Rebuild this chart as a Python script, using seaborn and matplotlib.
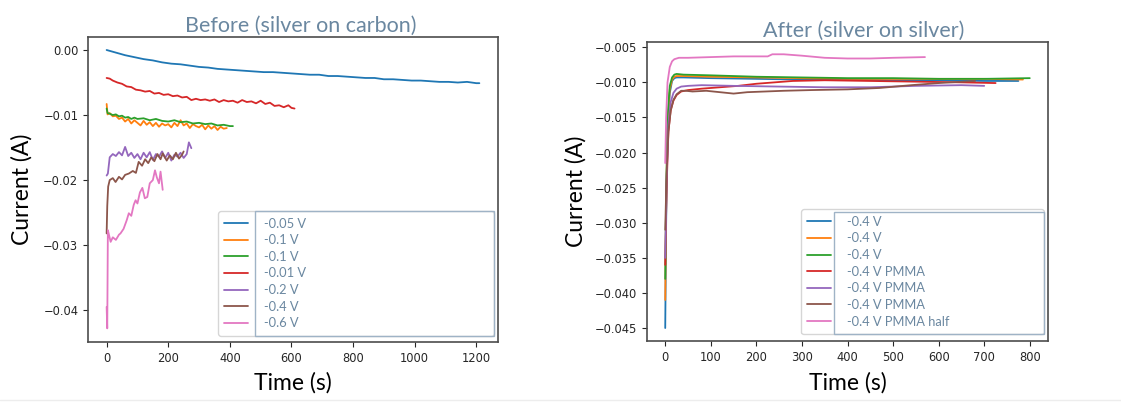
import matplotlib
matplotlib.use('Agg')
import matplotlib.pyplot as plt
from matplotlib.patches import Rectangle
from matplotlib.lines import Line2D
import numpy as np
import pandas as pd
import seaborn as sns

# ---- data (time in s, current in A) ----
before_labels = ['-0.05 V', '-0.1 V', '-0.1 V', '-0.01 V', '-0.2 V', '-0.4 V', '-0.6 V']

b_t_005 = [0, 30, 60, 90, 120, 150, 180, 210, 240, 270, 300, 330, 360, 390, 420, 450,
           480, 510, 540, 570, 600, 630, 660, 690, 720, 750, 780, 810, 840, 870, 900,
           930, 960, 990, 1020, 1050, 1080, 1110, 1140, 1170, 1200, 1210]
b_i_005 = [0.0, -0.0004, -0.0008, -0.0011, -0.0014, -0.0016, -0.0019, -0.0021, -0.0022,
           -0.0024, -0.0026, -0.0027, -0.0029, -0.0030, -0.0031, -0.0032, -0.0033,
           -0.0034, -0.0034, -0.0035, -0.0036, -0.0037, -0.0038, -0.0038, -0.0040,
           -0.0040, -0.0041, -0.0042, -0.0043, -0.0043, -0.0045, -0.0045, -0.0046,
           -0.0047, -0.0047, -0.0048, -0.0049, -0.0049, -0.0050, -0.0049, -0.0051, -0.0051]

b_t_01a = [0, 3, 10, 20, 30, 40, 50, 60, 70, 80, 90, 100, 110, 120, 130, 140, 150, 160,
           170, 180, 190, 200, 210, 220, 230, 240, 250, 260, 270, 280, 290, 300, 310,
           320, 330, 340, 350, 360, 370, 380, 390]
b_i_01a = [-0.0083, -0.0099, -0.0097, -0.0102, -0.0101, -0.0106, -0.0104, -0.0110, -0.0106,
           -0.0113, -0.0108, -0.0112, -0.0116, -0.0109, -0.0115, -0.0111, -0.0117, -0.0112,
           -0.0118, -0.0113, -0.0116, -0.0114, -0.0119, -0.0112, -0.0117, -0.0108, -0.0116,
           -0.0113, -0.0120, -0.0114, -0.0117, -0.0119, -0.0115, -0.0122, -0.0116, -0.0121,
           -0.0117, -0.0123, -0.0118, -0.0121, -0.0120]

b_t_01b = [0, 3, 10, 20, 30, 40, 50, 60, 70, 80, 90, 100, 120, 140, 160, 180, 200, 220,
           240, 260, 280, 300, 320, 340, 360, 380, 400, 410]
b_i_01b = [-0.0090, -0.0097, -0.0098, -0.0100, -0.0099, -0.0102, -0.0101, -0.0104, -0.0103,
           -0.0106, -0.0104, -0.0106, -0.0105, -0.0108, -0.0106, -0.0109, -0.0110, -0.0108,
           -0.0111, -0.0110, -0.0113, -0.0112, -0.0114, -0.0113, -0.0116, -0.0115, -0.0117,
           -0.0117]

b_t_001 = [0, 10, 20, 35, 50, 65, 80, 95, 110, 125, 140, 155, 170, 185, 200, 215, 230,
           245, 260, 275, 290, 305, 320, 335, 350, 365, 380, 395, 410, 425, 440, 455,
           470, 485, 500, 515, 530, 545, 560, 575, 590, 600, 610]
b_i_001 = [-0.0043, -0.0044, -0.0047, -0.0050, -0.0052, -0.0056, -0.0057, -0.0061, -0.0062,
           -0.0064, -0.0063, -0.0067, -0.0066, -0.0069, -0.0068, -0.0071, -0.0070, -0.0073,
           -0.0072, -0.0077, -0.0075, -0.0077, -0.0076, -0.0078, -0.0076, -0.0080, -0.0077,
           -0.0079, -0.0078, -0.0081, -0.0077, -0.0080, -0.0079, -0.0082, -0.0078, -0.0083,
           -0.0081, -0.0086, -0.0085, -0.0088, -0.0085, -0.0089, -0.0090]

b_t_02 = [0, 4, 10, 20, 30, 40, 50, 60, 70, 80, 90, 100, 110, 120, 130, 140, 150, 160,
          170, 180, 190, 200, 210, 220, 230, 240, 250, 260, 267, 275]
b_i_02 = [-0.0193, -0.0190, -0.0165, -0.0160, -0.0163, -0.0157, -0.0162, -0.0149, -0.0163,
          -0.0158, -0.0166, -0.0160, -0.0168, -0.0158, -0.0165, -0.0157, -0.0169, -0.0160,
          -0.0164, -0.0156, -0.0166, -0.0158, -0.0170, -0.0161, -0.0164, -0.0158, -0.0166,
          -0.0160, -0.0142, -0.0151]

b_t_04 = [0, 2, 5, 10, 20, 29, 40, 50, 60, 72, 85, 95, 104, 115, 125, 135, 145, 155,
          165, 175, 182, 195, 205, 215, 225, 235, 245, 250]
b_i_04 = [-0.0282, -0.0240, -0.0210, -0.0200, -0.0197, -0.0203, -0.0195, -0.0199, -0.0192,
          -0.0190, -0.0186, -0.0189, -0.0172, -0.0178, -0.0168, -0.0174, -0.0165, -0.0171,
          -0.0160, -0.0168, -0.0159, -0.0170, -0.0162, -0.0168, -0.0158, -0.0167, -0.0161,
          -0.0156]

b_t_06 = [0, 2, 4, 8, 13, 20, 30, 40, 45, 55, 65, 72, 80, 88, 94, 100, 108, 116, 124,
          132, 140, 150, 157, 163, 170, 175, 182]
b_i_06 = [-0.0395, -0.0428, -0.0277, -0.0285, -0.0295, -0.0288, -0.0292, -0.0284, -0.0282,
          -0.0275, -0.0262, -0.0251, -0.0255, -0.0238, -0.0231, -0.0236, -0.0219, -0.0212,
          -0.0228, -0.0226, -0.0205, -0.0200, -0.0185, -0.0196, -0.0205, -0.0187, -0.0215]

after_labels = ['-0.4 V', '-0.4 V', '-0.4 V', '-0.4 V PMMA', '-0.4 V PMMA',
                '-0.4 V PMMA', '-0.4 V PMMA half']

a_t_1 = [0, 2, 5, 10, 15, 20, 25, 40, 100, 200, 300, 400, 500, 600, 700, 775]
a_i_1 = [-0.0450, -0.0300, -0.0170, -0.0115, -0.0098, -0.0094, -0.0093, -0.0093, -0.0094,
         -0.0095, -0.0096, -0.0096, -0.0097, -0.0097, -0.0098, -0.0098]
a_t_2 = [0, 2, 5, 10, 15, 20, 25, 40, 100, 200, 300, 400, 500, 600, 700, 785]
a_i_2 = [-0.0410, -0.0280, -0.0160, -0.0110, -0.0096, -0.0092, -0.0091, -0.0091, -0.0092,
         -0.0093, -0.0094, -0.0095, -0.0095, -0.0095, -0.0095, -0.0096]
a_t_3 = [0, 2, 5, 10, 15, 20, 25, 40, 100, 200, 300, 400, 500, 600, 700, 800]
a_i_3 = [-0.0380, -0.0260, -0.0150, -0.0105, -0.0093, -0.0089, -0.0088, -0.0089, -0.0090,
         -0.0092, -0.0093, -0.0094, -0.0094, -0.0095, -0.0095, -0.0094]
a_t_4 = [0, 3, 7, 12, 18, 25, 35, 50, 80, 120, 160, 200, 240, 280, 350, 450, 550, 650, 725]
a_i_4 = [-0.0360, -0.0250, -0.0170, -0.0140, -0.0126, -0.0118, -0.0113, -0.0111, -0.0109,
         -0.0107, -0.0105, -0.0102, -0.0100, -0.0098, -0.0097, -0.0098, -0.0099, -0.0100,
         -0.0101]
a_t_5 = [0, 3, 7, 12, 18, 25, 35, 50, 80, 150, 250, 350, 450, 550, 650, 700]
a_i_5 = [-0.0350, -0.0240, -0.0160, -0.0128, -0.0115, -0.0109, -0.0106, -0.0105, -0.0104,
         -0.0105, -0.0106, -0.0107, -0.0107, -0.0105, -0.0104, -0.0105]
a_t_6 = [0, 3, 7, 12, 18, 25, 35, 45, 60, 90, 120, 150, 180, 220, 260, 320, 400, 470,
         540, 600, 680]
a_i_6 = [-0.0310, -0.0230, -0.0170, -0.0140, -0.0125, -0.0117, -0.0112, -0.0112, -0.0113,
         -0.0112, -0.0114, -0.0116, -0.0114, -0.0113, -0.0112, -0.0111, -0.0110, -0.0108,
         -0.0104, -0.0101, -0.0098]
a_t_7 = [0, 2, 5, 10, 15, 20, 30, 50, 100, 150, 200, 225, 235, 260, 300, 350, 400, 450,
         500, 570]
a_i_7 = [-0.0215, -0.0150, -0.0100, -0.0078, -0.0070, -0.0067, -0.0065, -0.0065, -0.0064,
         -0.0063, -0.0063, -0.0063, -0.0060, -0.0060, -0.0062, -0.0065, -0.0066, -0.0066,
         -0.0065, -0.0064]

before_series = [(b_t_005, b_i_005), (b_t_01a, b_i_01a), (b_t_01b, b_i_01b),
                 (b_t_001, b_i_001), (b_t_02, b_i_02), (b_t_04, b_i_04), (b_t_06, b_i_06)]
after_series = [(a_t_1, a_i_1), (a_t_2, a_i_2), (a_t_3, a_i_3), (a_t_4, a_i_4),
                (a_t_5, a_i_5), (a_t_6, a_i_6), (a_t_7, a_i_7)]

SLIDE = '#6A87A0'


def to_frame(series, labels):
    rows = []
    for k, ((t, i), lab) in enumerate(zip(series, labels)):
        for tt, ii in zip(t, i):
            rows.append({'time': tt, 'current': ii, 'run': k, 'label': lab})
    return pd.DataFrame(rows)


def draw_panel(ax, df, labels, title, title_x, box, yticks, xticks):
    pal = sns.color_palette('tab10', len(labels))
    for k, lab in enumerate(labels):
        sub = df[df.run == k]
        sns.lineplot(x='time', y='current', data=sub, ax=ax, color=pal[k],
                     lw=1.3, label=lab, sort=False, estimator=None)
    ax.set_yticks(yticks)
    ax.set_xticks(xticks)
    ax.tick_params(labelsize=8.3, length=3.5, width=0.8, colors='0.15')
    for s in ax.spines.values():
        s.set_color('0.3')
        s.set_linewidth(1.2)
    ax.set_title(title, color=SLIDE, fontsize=15.5, family='Lato', x=title_x, pad=4)
    ax.set_xlabel('Time (s)', fontsize=16.5, family='Lato', color='black')
    ax.set_ylabel('Current (A)', fontsize=16.5, family='Lato', color='black')
    left, text_left, bottom, height = box
    leg = ax.legend(loc='lower left', bbox_to_anchor=(left, bottom, 0.99 - left, height),
                    mode='expand', labelspacing=0.36, handlelength=1.8,
                    handletextpad=1.3, borderaxespad=0, borderpad=0.5,
                    prop={'family': 'Lato', 'size': 9.3})
    for txt in leg.get_texts():
        txt.set_color(SLIDE)
    ax.add_patch(Rectangle((text_left, bottom), 0.99 - text_left, height,
                           transform=ax.transAxes, fill=False, edgecolor='#9fb3c6',
                           lw=1.0, zorder=10))


def main():
    sns.set_theme(style='ticks', palette='tab10')
    plt.rcParams['font.family'] = ['DejaVu Sans']

    fig = plt.figure(figsize=(11.21, 4.18), dpi=100)
    ax1 = fig.add_axes([88 / 1121, 1 - 342 / 418, 410 / 1121, 305 / 418])
    ax2 = fig.add_axes([647 / 1121, 1 - 341 / 418, 401 / 1121, 299 / 418])

    df1 = to_frame(before_series, before_labels)
    df2 = to_frame(after_series, after_labels)

    draw_panel(ax1, df1, before_labels, 'Before (silver on carbon)', 0.52,
               (0.317, 0.407, 0.02, 0.41), [0.0, -0.01, -0.02, -0.03, -0.04],
               [0, 200, 400, 600, 800, 1000, 1200])
    ax1.set_yticklabels(['0.00', '\u22120.01', '\u22120.02', '\u22120.03', '\u22120.04'])
    ax1.set_xlim(-60.5, 1270.5)
    ax1.set_ylim(-0.0449, 0.0020)
    ax1.yaxis.set_label_coords(-0.134, 0.5)
    ax1.xaxis.set_label_coords(0.5, -0.098)

    draw_panel(ax2, df2, after_labels, 'After (silver on silver)', 0.54,
               (0.384, 0.466, 0.023, 0.41), [-0.005, -0.010, -0.015, -0.020, -0.025,
                                            -0.030, -0.035, -0.040, -0.045],
               [0, 100, 200, 300, 400, 500, 600, 700, 800])
    ax2.set_yticklabels(['\u22120.%03d' % v for v in range(5, 50, 5)])
    ax2.set_xlim(-40, 840)
    ax2.set_ylim(-0.04685, -0.00425)
    ax2.yaxis.set_label_coords(-0.15, 0.5)
    ax2.xaxis.set_label_coords(0.5, -0.104)

    # faint slide edge
    fig.add_artist(Line2D([0, 1], [1 - 400 / 418] * 2, transform=fig.transFigure,
                          color='0.93', lw=1))

    fig.savefig('out.png', dpi=100)
    plt.close(fig)


if __name__ == '__main__':
    main()
